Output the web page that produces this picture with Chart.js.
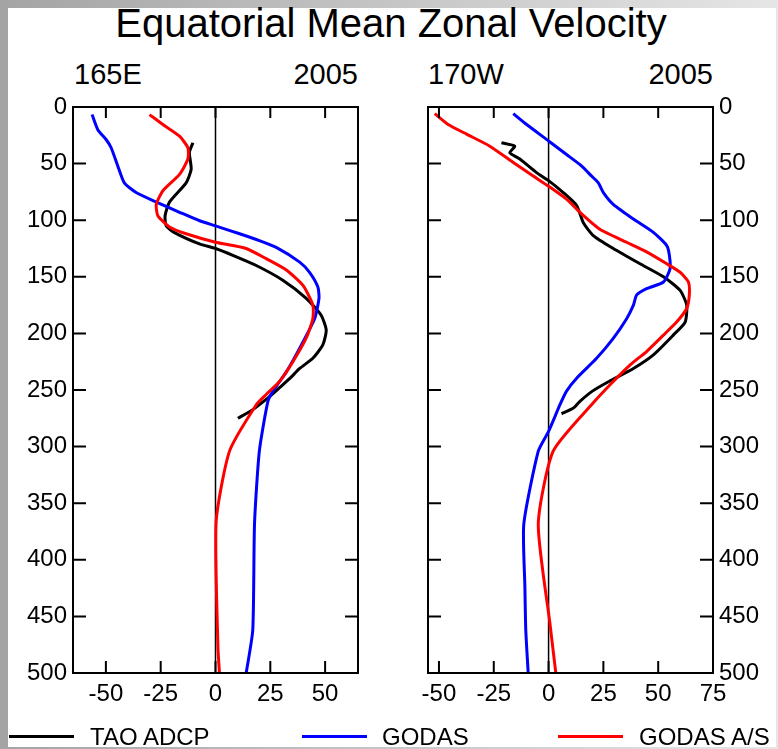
<!DOCTYPE html>
<html>
<head>
<meta charset="utf-8">
<script src="https://cdn.jsdelivr.net/npm/chart.js@4.4.1/dist/chart.umd.min.js"></script>
<style>
  html, body { margin: 0; padding: 0; }
  body {
    width: 778px; height: 749px; position: relative; overflow: hidden;
    background: linear-gradient(to right, #a4a4a4, #e6e6e6);
    font-family: "Liberation Sans", Arial, sans-serif; color: #000;
  }
  #sheet { position: absolute; left: 8px; top: 8px; width: 768px; height: 739px; background: #fff; }
  .txt { position: absolute; white-space: nowrap; line-height: 1; }
  #title { left: 0; width: 782px; text-align: center; top: 3px; font-size: 40px; }
  .sub { top: 60px; font-size: 29px; }
  .leg { top: 725px; font-size: 24px; }
  .swatch { position: absolute; top: 735px; width: 65px; height: 3px; }
  canvas { position: absolute; }
</style>
</head>
<body>
<div id="sheet"></div>
<div id="title" class="txt">Equatorial Mean Zonal Velocity</div>
<div class="txt sub" style="left:74px">165E</div>
<div class="txt sub" style="right:420px">2005</div>
<div class="txt sub" style="left:428px">170W</div>
<div class="txt sub" style="right:65px">2005</div>

<canvas id="left" width="380" height="640" style="left:0;top:89px"></canvas>
<canvas id="right" width="378" height="640" style="left:400px;top:89px"></canvas>

<div class="swatch" style="left:9px;background:#000"></div>
<div class="txt leg" style="left:90px">TAO ADCP</div>
<div class="swatch" style="left:302px;background:#0000ff"></div>
<div class="txt leg" style="left:382px">GODAS</div>
<div class="swatch" style="left:558px;background:#ff0000"></div>
<div class="txt leg" style="left:639px">GODAS A/S</div>

<script>
// depth axis (m) and velocity ticks (cm/s)
const depthTicks = [0, 50, 100, 150, 200, 250, 300, 350, 400, 450, 500];
const velTicks165E = [-50, -25, 0, 25, 50];
const velTicks170W = [-50, -25, 0, 25, 50, 75];
const velRange165E = [-65, 65];
const velRange170W = [-55, 75];

// 165E
const taoDepth165E = [31.6, 40, 55, 67, 84, 96, 105, 111, 121, 125, 131, 140, 153, 169, 184, 197, 210, 222, 231, 240, 248, 256, 268, 275];
const taoVel165E   = [-10.3, -11.9, -11.1, -13.4, -21, -23, -22.5, -18.7, -7.3, 0, 7.9, 18.6, 30.7, 41.4, 48.2, 50.5, 49, 44.4, 38.4, 33.8, 29.2, 24.5, 16.5, 10.2];
const godasDepth165E = [6.7, 20, 28.7, 36, 52, 67, 75.6, 84, 93, 100.5, 105, 112, 118, 124, 137, 146, 159, 169, 187, 213, 234, 251, 260, 304, 368, 462, 500];
const godasVel165E   = [-56.3, -53.7, -49.9, -47.6, -44.6, -41.6, -36.2, -27, -16.4, -7.3, 0, 11, 20, 27.7, 38.4, 42.9, 46.7, 47.2, 45.2, 38.4, 32.3, 26.2, 23.9, 20, 17.8, 17, 14];
const asDepth165E = [6.7, 15.5, 25.8, 36, 46, 59.5, 74, 86, 96, 106, 112, 119.5, 125, 134, 144, 157.6, 175, 187, 204, 225, 242.5, 254, 263, 304, 366, 477, 500];
const asVel165E   = [-30.1, -24, -16.4, -12.6, -12.6, -16.4, -24, -27, -26.3, -21, -13.4, 0, 14, 23.1, 32.3, 39.9, 44.4, 44.4, 41.4, 35.3, 29.2, 23.1, 18.6, 6.4, 0.3, 1.1, 1.8];

// 170W
const taoDepth170W = [31.6, 34.6, 40.4, 46, 58, 65, 75.6, 87, 102, 113.6, 125, 138.5, 150, 162, 175, 190, 201.5, 219, 231, 242.5, 251, 260, 266, 271];
const taoVel170W   = [-21.5, -15.4, -17.7, -13.1, -5.5, 0, 6.7, 12.8, 15.8, 20.4, 29.5, 41.7, 52.4, 60, 63, 62.3, 56.9, 47.8, 38.7, 27.5, 20, 14.3, 11.3, 5.9];
const godasDepth170W = [5.9, 15.5, 30, 42, 52, 61, 67, 75.6, 86, 99, 110.7, 122.4, 131, 143, 154.6, 160.5, 166, 175, 187, 204.4, 222, 239.6, 251, 263, 286.5, 304, 368.5, 424, 462, 500];
const godasVel170W   = [-16.1, -10, 0, 8.2, 15, 19.6, 22.7, 25, 29.5, 38.7, 47.8, 53.9, 55.1, 55.4, 52.4, 44.7, 40.2, 38.7, 35.6, 29.5, 21.9, 12.8, 8.2, 5.2, 0, -4.7, -11.3, -10.8, -10.4, -9.3];
const asDepth170W = [5.9, 15.5, 24, 34.6, 49, 61, 70, 81.4, 93, 108, 119.5, 128, 138.5, 146, 154.6, 166, 178, 190, 201.5, 216, 228, 242.5, 260, 304, 368.5, 456, 500];
const asVel170W   = [-51.9, -45.8, -37.4, -26.8, -16.1, -7, 0, 8.2, 14.3, 23.4, 35.6, 44.7, 53.9, 60, 63.8, 64.2, 63, 58.4, 52.4, 44.7, 37.1, 29.5, 21, 2.1, -4.7, 0.6, 3.3];

const FONT = { family: '"Liberation Sans", Arial, sans-serif', size: 24, lineHeight: 1 };

function pts(depth, vel) {
  return depth.map((d, i) => ({ x: vel[i], y: d }));
}

function line(label, data, color, order) {
  return { label, data, borderColor: color, borderWidth: 3, pointRadius: 0, showLine: true, fill: false, tension: 0.2, order };
}

// box, inward ticks and the zero line
const framePlugin = {
  id: 'frame',
  beforeDatasetsDraw(chart) {
    const { ctx, chartArea: a, scales: { x } } = chart;
    const x0 = x.getPixelForValue(0);
    ctx.save();
    ctx.strokeStyle = '#000';
    ctx.lineWidth = 1.5;
    ctx.beginPath();
    ctx.moveTo(x0, a.top);
    ctx.lineTo(x0, a.bottom);
    ctx.stroke();
    ctx.restore();
  },
  afterDatasetsDraw(chart) {
    const { ctx, chartArea: a, scales: { x, y } } = chart;
    ctx.save();
    ctx.strokeStyle = '#000';
    ctx.lineWidth = 2;
    ctx.strokeRect(a.left, a.top, a.right - a.left, a.bottom - a.top);
    ctx.beginPath();
    x.ticks.forEach(t => {
      const px = x.getPixelForValue(t.value);
      ctx.moveTo(px, a.bottom); ctx.lineTo(px, a.bottom - 12);
      ctx.moveTo(px, a.top); ctx.lineTo(px, a.top + 11);
    });
    y.ticks.forEach(t => {
      const py = y.getPixelForValue(t.value);
      ctx.moveTo(a.left, py); ctx.lineTo(a.left + 13, py);
      ctx.moveTo(a.right, py); ctx.lineTo(a.right - 13, py);
    });
    ctx.stroke();
    ctx.restore();
  }
};

function makePanel(id, datasets, velRange, velTicks, yPos, yWidth, padding) {
  new Chart(document.getElementById(id), {
    type: 'scatter',
    data: { datasets },
    options: {
      responsive: false,
      animation: false,
      devicePixelRatio: 1,
      layout: { padding },
      plugins: { legend: { display: false }, tooltip: { enabled: false } },
      scales: {
        x: {
          type: 'linear', min: velRange[0], max: velRange[1],
          grid: { display: false, drawTicks: false },
          border: { display: false },
          ticks: { color: '#000', font: FONT, padding: 9, maxRotation: 0, autoSkip: false },
          afterBuildTicks: s => { s.ticks = velTicks.map(v => ({ value: v })); },
          afterFit: s => { s.height = 56; }
        },
        y: {
          type: 'linear', position: yPos, reverse: true, min: 0, max: 500,
          grid: { display: false, drawTicks: false },
          border: { display: false },
          ticks: { color: '#000', font: FONT, padding: 6, autoSkip: false },
          afterBuildTicks: s => { s.ticks = depthTicks.map(v => ({ value: v })); },
          afterFit: s => { s.width = yWidth; }
        }
      }
    },
    plugins: [framePlugin]
  });
}

makePanel('left', [
  line('TAO ADCP', pts(taoDepth165E, taoVel165E), '#000000', 2),
  line('GODAS', pts(godasDepth165E, godasVel165E), '#0000ff', 1),
  line('GODAS A/S', pts(asDepth165E, asVel165E), '#ff0000', 0)
], velRange165E, velTicks165E, 'left', 73, { top: 15, right: 22, left: 0, bottom: 0 });

makePanel('right', [
  line('TAO ADCP', pts(taoDepth170W, taoVel170W), '#000000', 2),
  line('GODAS', pts(godasDepth170W, godasVel170W), '#0000ff', 1),
  line('GODAS A/S', pts(asDepth170W, asVel170W), '#ff0000', 0)
], velRange170W, velTicks170W, 'right', 65, { top: 15, right: 0, left: 28, bottom: 0 });
</script>
</body>
</html>
